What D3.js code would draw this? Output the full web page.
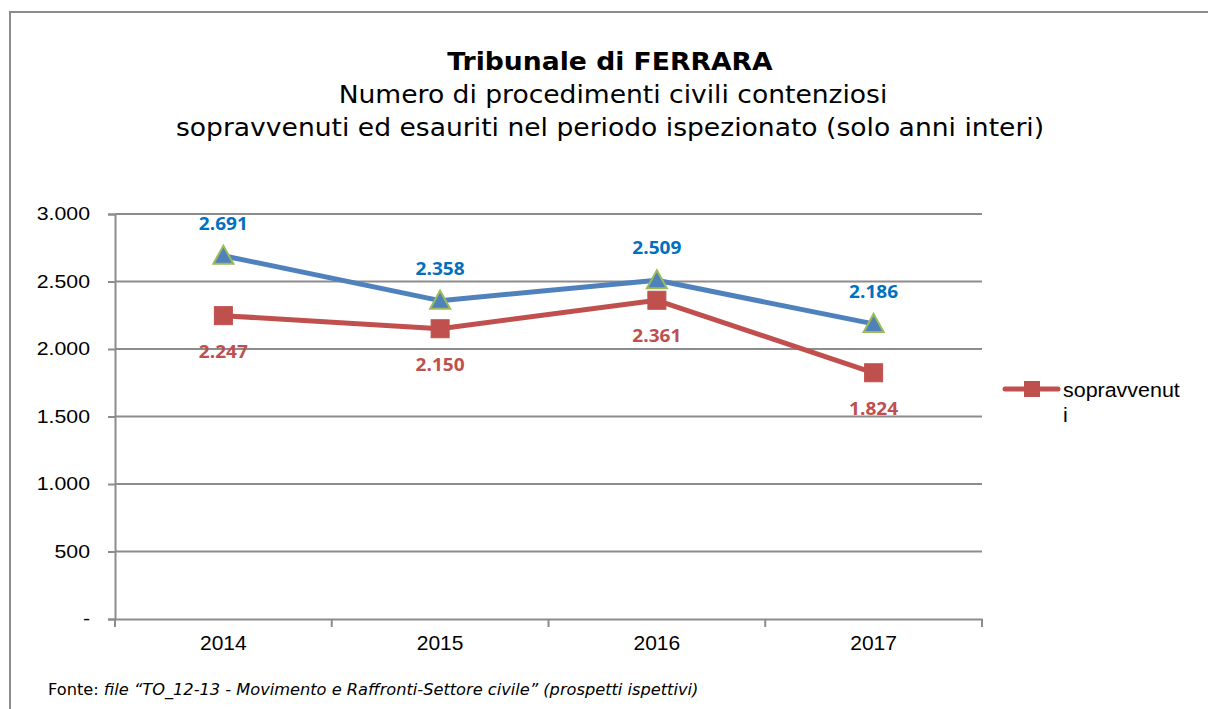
<!DOCTYPE html>
<html><head><meta charset="utf-8">
<script src="https://cdn.jsdelivr.net/npm/d3@7"></script>
<style>body{margin:0;background:#fff}svg{display:block}</style>
</head><body>
<svg id="chart" width="1208" height="709"></svg>
<script>
const categories = ["2014","2015","2016","2017"];
const sopravvenuti = [2247, 2150, 2361, 1824];
const esauriti = [2691, 2358, 2509, 2186];
const yTicks = [0, 500, 1000, 1500, 2000, 2500, 3000];
const titleLines = ["Tribunale di FERRARA", "Numero di procedimenti civili contenziosi", "sopravvenuti ed esauriti nel periodo ispezionato (solo anni interi)"];
const legendLabel = ["sopravvenut", "i"];

const svg = d3.select("#chart");
const fmt = v => v === 0 ? "-" : d3.format(",")(v).replace(/,/g, ".");
const VERD = "DejaVu Sans, Verdana, sans-serif";
const ARIAL = "Liberation Sans, Arial, sans-serif";

function stretchText(parent, x, y, sx, txt, anchor) {
  return parent.append("text").attr("transform", `translate(${x},${y}) scale(${sx},1)`)
    .attr("text-anchor", anchor || "start").text(txt);
}

// outer frame
svg.append("path").attr("d","M10,709 L10,12 L1208,12").attr("fill","none").attr("stroke","#8c8c8c").attr("stroke-width",2);

// titles
stretchText(svg, 610, 70, 1.11, titleLines[0], "middle").style("font-family",VERD).style("font-weight","bold").style("font-size","24px");
stretchText(svg, 613, 103, 1.107, titleLines[1], "middle").style("font-family",VERD).style("font-size","24px");
stretchText(svg, 610, 136, 1.108, titleLines[2], "middle").style("font-family",VERD).style("font-size","24px");

const x = d3.scaleBand().domain(categories).range([115, 982]);
const y = d3.scaleLinear().domain([0, 3000]).range([619, 214]);

// gridlines
svg.append("g").selectAll("line").data(yTicks.filter(d=>d>0)).join("line")
  .attr("x1",115).attr("x2",982).attr("y1",d=>y(d)).attr("y2",d=>y(d))
  .attr("stroke","#8c8c8c").attr("stroke-width",2);

// y axis
const yAxis = svg.append("g").attr("transform","translate(115,0)")
  .call(d3.axisLeft(y).tickValues(yTicks).tickFormat(fmt).tickSize(7).tickPadding(25));
yAxis.select(".domain").attr("stroke","#8c8c8c").attr("stroke-width",2);
yAxis.selectAll(".tick line").attr("stroke","#8c8c8c").attr("stroke-width",2);
yAxis.selectAll("text").attr("x",0).attr("transform","translate(-25,0) scale(1.15,1)")
  .style("font-family",ARIAL).style("font-size","18.5px").attr("fill","#000");

// x axis
const xAxis = svg.append("g").attr("transform","translate(0,619)")
  .call(d3.axisBottom(x).tickSize(0).tickPadding(16));
xAxis.select(".domain").attr("stroke","#8c8c8c").attr("stroke-width",2);
xAxis.selectAll("text").style("font-family",ARIAL).style("font-size","21px").attr("fill","#000");
const bounds = categories.map(c=>x(c)).concat([x(categories[categories.length-1])+x.bandwidth()]);
svg.append("g").selectAll("line").data(bounds).join("line")
  .attr("x1",d=>d).attr("x2",d=>d).attr("y1",619).attr("y2",627)
  .attr("stroke","#8c8c8c").attr("stroke-width",2);

const cx = c => x(c) + x.bandwidth()/2;
const line = d3.line().x((d,i)=>cx(categories[i])).y(d=>y(d));

// blue series
svg.append("path").datum(esauriti).attr("d",line).attr("fill","none").attr("stroke","#4F81BD").attr("stroke-width",5).attr("stroke-linejoin","round");
// red series
svg.append("path").datum(sopravvenuti).attr("d",line).attr("fill","none").attr("stroke","#C0504D").attr("stroke-width",5).attr("stroke-linejoin","round");

// triangles
svg.append("g").selectAll("path").data(esauriti).join("path")
  .attr("transform",(d,i)=>`translate(${cx(categories[i])},${y(d)})`)
  .attr("d","M0,-10 L10,8 L-10,8 Z")
  .attr("fill","#4F81BD").attr("stroke","#9BBB59").attr("stroke-width",2);
// squares
svg.append("g").selectAll("rect").data(sopravvenuti).join("rect")
  .attr("x",(d,i)=>cx(categories[i])-9).attr("y",d=>y(d)-9)
  .attr("width",18).attr("height",18).attr("fill","#C0504D").attr("stroke","#C0504D").attr("stroke-width",1);

// labels
svg.append("g").selectAll("text").data(esauriti).join("text")
  .attr("transform",(d,i)=>`translate(${cx(categories[i])},${y(d)-26}) scale(1.06,1)`)
  .attr("text-anchor","middle").attr("fill","#0070C0")
  .style("font-family","Open Sans, Lato, sans-serif").style("font-weight","bold").style("font-size","18px")
  .text(fmt);
svg.append("g").selectAll("text").data(sopravvenuti).join("text")
  .attr("transform",(d,i)=>`translate(${cx(categories[i])},${y(d)+42}) scale(1.06,1)`)
  .attr("text-anchor","middle").attr("fill","#C0504D")
  .style("font-family","Open Sans, Lato, sans-serif").style("font-weight","bold").style("font-size","18px")
  .text(fmt);

// legend
svg.append("line").attr("x1",1005).attr("x2",1058).attr("y1",389).attr("y2",389).attr("stroke","#C0504D").attr("stroke-width",5).attr("stroke-linecap","round");
svg.append("rect").attr("x",1024).attr("y",381).attr("width",16).attr("height",16).attr("fill","#C0504D");
stretchText(svg, 1063, 397, 1.1, legendLabel[0]).style("font-family",ARIAL).style("font-size","19.5px");
stretchText(svg, 1063, 422, 1.1, legendLabel[1]).style("font-family",ARIAL).style("font-size","19.5px");

// footer
const f = svg.append("text").attr("transform","translate(48,695) scale(1.08,1)").style("font-family",VERD).style("font-size","15px");
f.append("tspan").text("Fonte: ");
f.append("tspan").style("font-style","italic").text("file \u201cTO_12-13 - Movimento e Raffronti-Settore civile\u201d (prospetti ispettivi)");
</script>
</body></html>
